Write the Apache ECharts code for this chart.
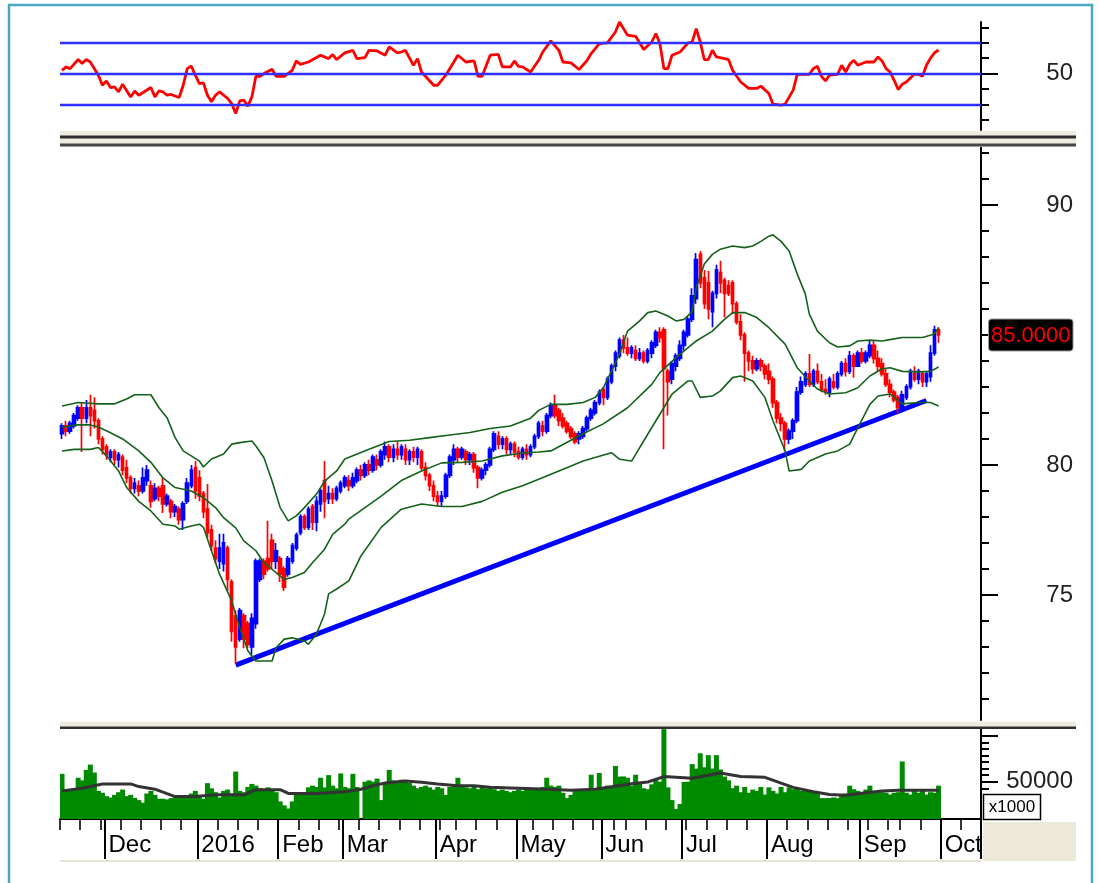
<!DOCTYPE html>
<html>
<head>
<meta charset="utf-8">
<script src="https://cdn.jsdelivr.net/npm/echarts@6.0.0/dist/echarts.min.js"></script>
<style>
html, body { margin: 0; padding: 0; background: #fff; }
#chart { width: 1099px; height: 883px; }
</style>
</head>
<body>
<div id="chart"></div>
<script>
// trading days Nov 16 2015 .. Sep 30 2016 (218 bars) + room up to the axis
var CAT_COUNT = 228;
var monthStarts = [11, 34, 54, 70, 93, 113, 134, 154, 175, 198, 218];
var monthNames = ['Dec', '2016', 'Feb', 'Mar', 'Apr', 'May', 'Jun', 'Jul', 'Aug', 'Sep', 'Oct'];
var weekStarts = [0, 5, 10, 15, 20, 25, 30, 34, 39, 44, 49, 54, 59, 64, 69, 74, 79, 84, 89, 94, 98, 103, 108,
    113, 117, 122, 127, 132, 137, 140, 145, 150, 155, 160, 165, 170, 175, 180, 185, 190, 195, 200, 205, 208, 213, 218, 223];

var opens = [81.2,81.5,81.3,81.5,81.8,82.2,81.8,82.2,82.1,81.7,
    81.0,80.7,80.3,80.5,80.2,80.3,79.9,79.5,79.1,79.2,
    79.0,79.4,79.2,78.7,79.1,79.2,78.5,78.6,78.2,78.3,
    77.9,78.6,79.2,79.9,79.5,78.9,78.3,77.5,76.8,76.3,
    76.2,76.8,75.5,74.2,73.3,74.2,73.9,73.0,73.9,75.6,
    76.3,76.4,77.1,76.3,76.4,76.0,75.8,76.3,76.8,77.4,
    78.0,77.6,78.4,77.8,78.5,79.4,78.7,78.9,78.7,79.0,
    79.2,79.4,79.2,79.4,79.8,79.6,80.0,79.8,80.2,80.0,
    80.4,80.7,80.3,80.6,80.4,80.6,80.2,80.5,80.3,80.5,
    79.9,79.6,79.2,78.8,78.6,78.8,79.6,80.2,80.6,80.3,
    80.5,80.2,80.4,79.9,79.5,79.8,80.0,80.6,81.1,80.8,
    81.0,80.6,80.8,80.5,80.3,80.6,80.4,80.7,81.1,81.5,
    81.3,81.9,82.3,82.1,81.8,81.6,81.4,81.2,81.0,81.1,
    81.4,81.8,82.0,82.4,82.9,82.6,83.2,83.8,84.2,84.8,
    84.5,84.3,84.4,84.1,84.3,84.0,84.3,84.6,85.1,85.2,
    83.6,83.3,83.8,84.1,84.6,85.0,85.6,86.4,88.1,87.2,
    87.0,85.9,86.6,87.4,87.1,86.9,87.0,86.2,85.5,85.0,
    84.3,84.0,83.7,84.0,83.8,83.6,83.3,82.4,81.8,81.6,
    81.0,81.3,81.7,82.8,83.1,83.5,83.1,83.6,83.2,82.9,
    82.8,83.2,83.0,83.5,83.9,83.6,84.2,83.8,84.3,84.0,
    84.2,84.6,84.1,83.9,83.5,83.1,82.8,82.6,82.2,82.6,
    83.0,83.5,83.3,83.5,83.2,83.4,84.3,85.2];
var closes = [81.5,81.3,81.6,81.9,82.2,81.8,82.2,81.9,81.7,81.0,
    80.6,80.4,80.5,80.2,80.4,79.8,79.5,79.1,79.3,79.0,
    79.5,79.8,78.6,79.1,78.8,78.5,78.8,78.2,78.4,77.9,
    78.5,79.3,79.8,79.0,78.8,78.2,77.4,76.9,76.4,76.8,
    77.0,75.6,73.6,73.0,74.4,73.3,73.1,74.1,76.3,76.3,
    75.8,76.0,76.3,76.7,75.8,75.3,76.4,76.9,77.3,78.0,
    77.6,78.3,77.8,78.6,79.0,78.6,78.9,78.7,79.1,79.3,
    79.5,79.2,79.5,79.8,79.6,80.0,79.8,80.3,80.0,80.5,
    80.7,80.3,80.6,80.4,80.7,80.2,80.5,80.3,80.6,79.9,
    79.6,79.2,78.8,78.6,78.8,79.6,80.3,80.6,80.3,80.6,
    80.2,80.4,79.9,79.5,79.8,80.0,80.6,81.2,80.8,81.0,
    80.6,80.8,80.5,80.3,80.6,80.4,80.7,81.1,81.6,81.3,
    81.9,82.3,81.9,81.7,81.5,81.3,81.1,80.9,81.2,81.4,
    81.8,82.1,82.4,82.8,82.6,83.3,83.8,84.3,84.8,84.5,
    84.3,84.5,84.1,84.3,84.0,84.4,84.7,85.1,84.9,83.7,
    83.2,83.9,84.2,84.6,85.1,85.6,86.5,87.9,87.0,86.2,
    86.0,86.6,87.5,87.0,86.6,86.6,86.2,85.5,85.0,84.3,
    84.0,83.7,84.0,83.8,83.5,83.3,82.4,81.8,81.6,81.0,
    81.3,81.7,82.8,83.2,83.5,83.1,83.6,83.2,82.9,82.8,
    83.3,83.0,83.5,83.9,83.6,84.2,83.8,84.3,84.0,84.3,
    84.6,84.1,83.8,83.5,83.1,82.8,82.5,82.2,82.7,83.0,
    83.6,83.3,83.6,83.2,83.5,84.3,85.2,85.0];
var lows = [81.0,81.1,81.2,81.4,81.7,80.5,81.6,81.1,81.4,80.8,
    80.4,80.2,80.1,80.0,79.9,79.6,79.3,78.9,78.9,78.8,
    78.9,79.2,78.35,78.6,78.6,78.15,78.4,77.95,78.0,77.7,
    77.5,78.5,79.1,78.7,78.6,77.95,77.2,76.7,76.2,76.0,
    75.9,75.15,73.2,72.35,73.2,72.95,72.95,72.7,73.7,75.5,
    75.6,75.9,76.0,76.0,75.5,75.15,75.7,76.2,76.7,77.3,
    77.5,77.5,77.5,77.45,78.2,77.95,78.5,78.5,78.6,78.9,
    79.1,79.0,79.1,79.3,79.4,79.5,79.6,79.7,79.8,79.9,
    80.2,80.1,80.1,80.2,80.2,80.0,80.0,80.1,80.0,79.8,
    79.4,79.0,78.6,78.4,78.4,78.7,79.5,80.0,80.1,80.2,
    80.0,80.0,79.7,79.1,79.4,79.6,79.9,80.5,80.6,80.6,
    80.4,80.4,80.3,80.2,80.2,80.2,80.3,80.6,81.0,81.1,
    81.2,81.8,81.8,81.5,81.4,81.2,81.0,80.8,80.8,81.0,
    81.3,81.7,81.9,82.3,82.3,82.5,83.1,83.6,84.1,84.3,
    84.2,84.1,84.0,84.0,83.9,83.9,84.1,84.5,84.7,80.6,
    81.9,83.1,83.6,84.0,84.4,84.9,85.5,86.2,86.8,86.0,
    85.6,85.3,86.4,86.6,85.67,86.5,85.8,85.4,84.8,83.2,
    83.6,83.5,83.6,83.6,83.3,83.1,82.2,81.6,81.3,80.55,
    80.8,81.0,81.6,82.7,83.0,83.0,83.0,83.1,82.8,82.7,
    82.6,82.9,82.9,83.4,83.4,83.5,83.35,83.8,83.9,83.9,
    84.1,83.9,83.6,83.4,83.0,82.6,82.4,82.0,82.1,82.5,
    82.9,83.2,83.1,83.0,83.0,83.2,84.2,84.7];
var highs = [81.6,81.7,81.7,82.0,82.3,82.4,82.5,82.7,82.6,81.8,
    81.1,80.8,80.6,80.6,80.5,80.4,80.2,79.6,79.5,79.4,
    79.9,80.0,79.4,79.3,79.2,79.5,78.9,78.7,78.5,78.4,
    78.6,79.5,80.0,80.15,79.8,79.0,79.27,77.7,77.1,77.35,
    77.35,76.9,75.6,74.4,74.5,74.3,74.0,74.3,76.4,76.4,
    76.4,77.85,77.35,77.0,76.5,76.1,76.5,77.0,77.4,78.1,
    78.1,78.4,78.5,78.8,79.1,80.15,79.2,79.1,79.2,79.4,
    79.6,79.6,79.7,79.9,80.0,80.1,80.2,80.4,80.4,80.6,
    80.9,80.8,80.8,80.9,80.8,80.8,80.6,80.7,80.7,80.6,
    80.1,79.7,79.4,79.0,79.0,79.7,80.4,80.8,80.7,80.7,
    80.6,80.5,80.5,80.0,79.9,80.1,80.7,81.3,81.3,81.1,
    81.1,80.9,80.9,80.7,80.7,80.8,80.8,81.2,81.7,81.7,
    82.0,82.4,82.7,82.2,82.0,81.7,81.5,81.3,81.3,81.5,
    81.9,82.2,82.5,82.9,83.0,83.4,83.9,84.4,84.9,85.0,
    84.9,84.6,84.6,84.5,84.4,84.5,84.8,85.2,85.3,85.3,
    83.7,84.0,84.3,84.8,85.2,85.7,86.8,88.15,88.23,87.5,
    87.46,86.7,87.7,87.85,87.2,87.1,87.1,86.3,85.8,85.1,
    84.4,84.2,84.1,84.1,83.9,83.9,83.4,82.5,82.0,81.7,
    81.4,81.8,83.0,83.4,83.6,84.27,83.7,83.9,83.5,83.3,
    83.4,83.5,83.6,84.0,84.1,84.38,84.3,84.4,84.5,84.4,
    84.77,84.8,84.4,84.1,83.7,83.3,82.9,82.7,82.85,83.1,
    83.7,83.8,83.7,83.6,83.6,84.6,85.35,85.3];
var volumes = [56000,43000,43000,44000,53000,51000,59000,63000,57000,43000,
    41600,39000,38000,40000,42000,44000,39000,40000,37700,36000,
    34000,41000,43000,40000,37000,37000,36500,37500,38000,38500,
    39000,38000,41000,43000,40000,37000,48900,45000,42000,38000,
    43000,44000,40000,57700,43000,42000,46000,48300,47000,45000,
    44000,45700,44300,42000,35000,32000,29600,35000,40000,41600,
    42000,45700,47000,46000,53000,45700,55000,47000,45000,56300,
    46000,45000,56000,46000,21500,50000,51000,50000,52400,36000,
    49000,59000,51000,50000,51500,50000,49000,47000,45000,46000,
    47000,45700,44000,46000,45000,40000,46000,47000,53000,46000,
    45700,45000,46000,44300,46000,45000,45700,44300,43000,44000,
    43000,42000,43000,44000,43000,44000,45000,44300,45000,46000,
    53000,47000,46000,47000,41600,37500,40000,42900,43000,42900,
    44000,55300,44000,56600,46000,47000,45700,62000,53900,54000,
    53000,47000,55300,49800,45000,44300,48000,51200,50000,90000,
    45700,36000,29200,33000,49800,50000,63400,60000,71600,61000,
    70200,60000,70200,59300,53900,51000,45000,47000,42000,46000,
    41600,44000,43000,46000,40200,45700,43000,41000,46000,42000,
    45700,44300,45000,43000,42900,43000,42000,41600,37500,37500,
    37500,38000,37500,40200,41000,47000,44300,43000,42000,44000,
    47000,42900,41600,42000,41600,40200,41600,42000,65400,41600,
    40200,42900,41600,42900,40200,42000,41600,47000];

// [bar index, value]
var volMa = [[0,43000],[5,45000],[10,48300],[17,48300],[19,46300],[23,44300],[26,40900],[28,38700],[33,38700],
    [38,40000],[45,40000],[48,43900],[54,43900],[56,41100],[63,41100],[70,42400],[74,44300],[77,47000],[80,49000],
    [85,50500],[89,49600],[93,48300],[98,47000],[102,47000],[106,45700],[111,45200],[115,44800],[120,44300],
    [126,43500],[132,44300],[141,48400],[145,49800],[149,53900],[156,52600],[163,56600],[168,53900],[174,53300],
    [181,45700],[186,42400],[190,40200],[194,39700],[199,41600],[203,42900],[207,43500],[217,43500]];
var bbUpper = [[0,82.27],[4,82.4],[9,82.35],[13,82.35],[16,82.54],[18,82.7],[22,82.7],[24,82.2],[26,81.82],[28,81.05],
    [30,80.54],[32,80.35],[34,80.15],[35,79.92],[37,80.23],[40,80.42],[42,80.8],[44,80.86],[47,80.92],[48,80.73],
    [50,80.28],[52,79.38],[54,78.36],[56,77.85],[58,78.04],[60,78.36],[63,78.88],[65,79.38],[68,79.77],[70,80.23],
    [76,80.6],[81,80.9],[86,80.95],[91,81.05],[96,81.15],[101,81.25],[106,81.4],[111,81.5],[116,81.8],[118,82.1],
    [121,82.33],[125,82.33],[129,82.4],[132,82.6],[134,82.97],[136,83.6],[138,84.27],[140,85.15],[143,85.54],
    [145,85.86],[147,85.92],[150,85.73],[152,85.54],[154,85.6],[156,85.9],[157,86.82],[159,87.73],[161,88.1],
    [163,88.3],[166,88.42],[169,88.36],[171,88.42],[173,88.6],[175,88.8],[176,88.85],[178,88.6],[180,88.23],
    [182,87.35],[184,86.58],[185,85.8],[187,85.15],[190,84.7],[192,84.54],[195,84.58],[197,84.77],[200,84.8],
    [203,84.77],[206,84.85],[208,84.9],[211,84.9],[213,84.9],[216,85.04],[217,85.28]];
var bbMid = [[0,81.43],[3,81.54],[7,81.54],[9,81.46],[12,81.24],[15,81.0],[19,80.54],[22,80.1],[25,79.5],[28,79.13],
    [32,79.0],[35,78.74],[38,78.36],[40,77.97],[43,77.58],[45,77.08],[48,76.7],[50,76.24],[53,75.86],[55,75.6],
    [57,75.67],[60,75.86],[62,76.24],[65,76.76],[67,77.33],[70,77.72],[71,77.92],[79,78.8],[84,79.4],[89,79.77],
    [94,80.08],[99,80.1],[104,80.15],[109,80.35],[114,80.46],[118,80.5],[121,80.54],[129,81.2],[134,81.58],
    [140,82.2],[146,83.1],[148,83.55],[152,84.13],[157,84.77],[161,85.15],[164,85.6],[166,85.86],[169,85.86],
    [172,85.67],[175,85.28],[179,84.65],[182,83.74],[185,83.23],[187,82.92],[190,82.73],[194,82.78],[197,82.97],
    [200,83.42],[203,83.7],[205,83.74],[208,83.6],[212,83.58],[215,83.6],[217,83.77]];
var bbLower = [[0,80.54],[3,80.6],[7,80.6],[9,80.67],[11,80.35],[14,79.77],[16,79.13],[19,78.6],[22,78.23],[25,77.72],
    [28,77.65],[29,77.53],[32,77.65],[34,77.72],[35,77.6],[37,76.7],[39,75.8],[42,74.77],[44,73.74],[46,72.85],
    [48,72.46],[50,72.46],[52,72.46],[53,72.97],[55,73.3],[57,73.35],[60,73.23],[61,73.1],[63,73.5],[65,74.27],
    [66,75.04],[68,75.23],[71,75.54],[74,76.5],[79,77.6],[84,78.3],[89,78.5],[94,78.4],[99,78.4],[104,78.6],
    [109,78.95],[114,79.2],[118,79.45],[123,79.77],[129,80.15],[136,80.47],[138,80.22],[141,80.15],[145,81.18],
    [148,81.95],[151,82.72],[155,83.23],[156,83.23],[158,82.6],[161,82.65],[163,82.85],[166,83.36],[168,83.42],
    [171,83.23],[174,82.6],[176,81.7],[179,80.54],[180,79.77],[183,79.83],[185,80.15],[189,80.42],[192,80.54],
    [195,80.8],[197,81.43],[200,82.33],[202,82.65],[205,82.73],[208,82.35],[212,82.4],[215,82.4],[217,82.27]];
var rsi = [[0,52.1],[1,54.3],[2,53.2],[4,59.1],[5,56.5],[6,59.1],[7,57.5],[9,48.9],[10,42.4],[11,45.2],[12,40.9],
    [13,41.3],[14,38.1],[15,43.1],[17,34.8],[18,38.7],[19,35.9],[22,40.9],[23,34.8],[24,38.7],[25,38.1],[26,35.9],
    [27,36.4],[29,34.4],[30,42.4],[31,53.2],[32,54.9],[33,48.9],[34,43.5],[35,43.9],[36,35.9],[37,31.6],[38,35.9],
    [39,38.1],[41,33.8],[42,30.5],[43,24.0],[44,32.2],[45,32.7],[46,28.8],[47,34.8],[48,48.2],[49,48.2],[50,50.0],
    [52,52.8],[53,48.2],[55,48.2],[57,52.1],[58,58.2],[59,56.0],[61,57.5],[63,60.4],[64,61.9],[66,59.7],[67,62.3],
    [68,59.1],[70,63.4],[72,65.1],[73,59.7],[75,60.4],[76,65.1],[78,64.7],[80,61.9],[81,67.3],[83,63.4],[84,64.0],
    [85,65.1],[87,55.4],[88,59.7],[89,51.0],[92,42.4],[93,42.4],[95,48.9],[97,57.5],[98,61.9],[100,57.5],[102,58.2],
    [103,48.2],[104,48.2],[106,61.9],[108,62.5],[109,54.3],[111,54.3],[112,58.2],[113,54.7],[114,54.3],[116,51.0],
    [118,58.6],[119,64.0],[121,71.2],[123,65.1],[124,57.5],[126,56.9],[128,52.6],[130,58.6],[131,63.0],[133,69.5],
    [135,69.9],[137,77.0],[138,83.5],[140,74.9],[142,74.2],[144,65.6],[146,70.5],[147,76.0],[148,69.5],[149,53.2],
    [150,53.2],[151,61.9],[153,64.0],[155,69.9],[156,70.5],[157,79.2],[158,70.5],[159,59.1],[160,59.1],[161,65.1],
    [162,60.8],[164,59.7],[165,59.1],[166,52.1],[168,44.5],[170,40.3],[172,40.3],[173,41.8],[175,37.0],[176,30.1],
    [178,29.4],[179,30.1],[181,39.2],[182,49.5],[185,49.5],[186,53.2],[187,54.7],[188,48.2],[189,45.2],[190,48.9],
    [192,49.5],[193,55.4],[194,51.0],[195,56.0],[196,58.6],[197,55.4],[199,57.5],[201,57.5],[202,60.8],[203,58.2],
    [204,53.2],[205,51.0],[206,45.6],[207,39.6],[208,43.1],[209,44.5],[211,49.5],[212,49.5],[213,48.2],[214,55.4],
    [215,60.0],[216,63.5],[217,65.3]];
var rsiLevels = [70, 50, 30];
var trendLine = [[43, 72.3], [214, 82.48]];

var rsiTicks = [20, 30, 40, 60, 70, 80];
var rsiLabels = [50];
var priceTicks = [71,72,73,74,76,77,78,79,81,82,83,84,85,86,87,88,89,91,92];
var priceLabels = [75, 80, 90];
var volTicks = [45000, 55000, 60000, 65000, 70000, 75000, 80000];
var volLongTicks = [50000, 85000];
var volLabels = [50000];

var FONT = 'Liberation Sans, Arial, sans-serif';
var categories = [];
for (var i = 0; i < CAT_COUNT; i++) {
    categories.push(String(i));
}
var candles = [];
for (var i = 0; i < closes.length; i++) {
    candles.push([opens[i], closes[i], lows[i], highs[i]]);
}
var lastClose = closes[closes.length - 1];

function isWeek(i) { return weekStarts.indexOf(i) >= 0; }
function isMonth(i) { return monthStarts.indexOf(i) >= 0; }

function bandSeries(name, data) {
    return {
        name: name, type: 'line', xAxisIndex: 1, yAxisIndex: 2, data: data,
        symbol: 'none', silent: true, z: 4,
        lineStyle: {color: '#14621a', width: 1.6}
    };
}

function valueAxis(grid, min, max, ticks, len, labels, showLine) {
    return {
        type: 'value', gridIndex: grid, position: 'right', min: min, max: max,
        axisLine: {show: showLine, onZero: false, lineStyle: {color: '#000', width: 2}},
        axisTick: {show: true, customValues: ticks, length: len, lineStyle: {color: '#000', width: 2}},
        axisLabel: labels ? {
            show: true, customValues: labels, fontSize: 24, fontFamily: FONT, color: '#222',
            align: 'right', margin: 92, formatter: function (v) { return String(v); }
        } : {show: false},
        splitLine: {show: false}
    };
}

var dom = document.getElementById('chart');
var myChart = echarts.init(dom);
var option = {
    animation: false,
    backgroundColor: '#fff',
    textStyle: {fontFamily: FONT},
    axisPointer: {triggerOn: 'none'},
    grid: [
        {left: 60, top: 22, width: 921, height: 108, containLabel: false},
        {left: 60, top: 147, width: 921, height: 573, containLabel: false},
        {left: 60, top: 729, width: 921, height: 90, containLabel: false}
    ],
    xAxis: [
        {type: 'category', gridIndex: 0, data: categories, show: false},
        {type: 'category', gridIndex: 1, data: categories, show: false},
        {
            type: 'category', gridIndex: 2, data: categories, position: 'bottom',
            axisLine: {show: true, onZero: false, lineStyle: {color: '#000', width: 2}},
            axisTick: {show: true, interval: function (i) { return isWeek(i); }, length: 11, lineStyle: {color: '#000', width: 1.6}},
            axisLabel: {show: false},
            splitLine: {show: false}
        },
        {
            type: 'category', gridIndex: 2, data: categories, position: 'bottom',
            axisLine: {show: false, onZero: false},
            axisTick: {show: true, interval: function (i) { return isMonth(i); }, length: 40, lineStyle: {color: '#000', width: 2}},
            axisLabel: {
                show: true, interval: function (i) { return isMonth(i); },
                formatter: function (v) { return monthNames[monthStarts.indexOf(+v)]; },
                align: 'left', padding: [0, 0, 0, 2], margin: 14,
                fontSize: 24, fontFamily: FONT, color: '#000'
            },
            splitLine: {show: false}
        }
    ],
    yAxis: [
        valueAxis(0, 13.3, 83.5, rsiTicks, 8, null, true),
        valueAxis(0, 13.3, 83.5, rsiLabels, 17, rsiLabels, false),
        valueAxis(1, 70.19, 92.23, priceTicks, 8, null, true),
        (function () {
            var ax = valueAxis(1, 70.19, 92.23, priceLabels, 17, priceLabels, false);
            // last price marker on the axis
            ax.axisPointer = {
                show: true, type: 'line', value: lastClose, status: 'show', snap: false,
                triggerTooltip: false,
                lineStyle: {opacity: 0, width: 0},
                label: {
                    show: true, margin: 8,
                    formatter: function (p) { return Number(p.value).toFixed(4); },
                    backgroundColor: '#000', color: '#ff0000',
                    borderColor: '#9a9a9a', borderWidth: 1, padding: [5, 2, 4, 2],
                    fontSize: 22, fontFamily: FONT
                }
            };
            return ax;
        })(),
        valueAxis(2, 21615, 90100, volTicks, 8, null, true),
        valueAxis(2, 21615, 90100, volLongTicks, 17, volLabels, false)
    ],
    series: [
        {
            name: 'RSI', type: 'line', xAxisIndex: 0, yAxisIndex: 0, data: rsi,
            symbol: 'none', silent: true, z: 4,
            lineStyle: {color: '#ff0000', width: 2.8},
            markLine: {
                silent: true, symbol: ['none', 'none'], label: {show: false},
                lineStyle: {color: '#2f2fff', width: 2.4, type: 'solid'},
                data: rsiLevels.map(function (v) { return {yAxis: v}; })
            }
        },
        {
            name: 'Trend', type: 'line', xAxisIndex: 1, yAxisIndex: 2, data: trendLine,
            symbol: 'none', silent: true, z: 2,
            lineStyle: {color: '#0000ff', width: 5}
        },
        {
            name: 'Price', type: 'candlestick', xAxisIndex: 1, yAxisIndex: 2, data: candles,
            barWidth: 3, z: 3,
            itemStyle: {
                color: '#0000ff', color0: '#ff0000',
                borderColor: '#0000ff', borderColor0: '#ff0000', borderWidth: 1.7
            }
        },
        bandSeries('Upper', bbUpper),
        bandSeries('Middle', bbMid),
        bandSeries('Lower', bbLower),
        {
            name: 'Volume', type: 'bar', xAxisIndex: 2, yAxisIndex: 4, data: volumes,
            barWidth: 5, silent: true,
            itemStyle: {color: '#008a00'}
        },
        {
            name: 'Vol MA', type: 'line', xAxisIndex: 2, yAxisIndex: 4, data: volMa,
            symbol: 'none', silent: true, z: 4,
            lineStyle: {color: '#333333', width: 3}
        }
    ],
    graphic: [
        {type: 'rect', z: 100, shape: {x: 9, y: 5, width: 1083, height: 900}, style: {fill: 'none', stroke: '#4aa6c2', lineWidth: 2.5}},
        {type: 'rect', z: 90, shape: {x: 60, y: 131, width: 1016, height: 16}, style: {fill: '#eeece0'}},
        {type: 'rect', z: 91, shape: {x: 60, y: 135.5, width: 1016, height: 3}, style: {fill: '#2e2e2e'}},
        {type: 'rect', z: 91, shape: {x: 60, y: 143.5, width: 1016, height: 3}, style: {fill: '#484848'}},
        {type: 'rect', z: 90, shape: {x: 60, y: 721.5, width: 1016, height: 5}, style: {fill: '#eeece0'}},
        {type: 'rect', z: 91, shape: {x: 60, y: 726.5, width: 1016, height: 2.5}, style: {fill: '#2e2e2e'}},
        {type: 'rect', z: 90, shape: {x: 983, y: 822, width: 93, height: 39}, style: {fill: '#ece9d8'}},
        {type: 'rect', z: 90, shape: {x: 60, y: 860, width: 921, height: 2}, style: {fill: '#e6e3d3'}},
        {type: 'rect', z: 95, shape: {x: 983.5, y: 794.5, width: 57, height: 25}, style: {fill: '#fff', stroke: '#000', lineWidth: 1.5}},
        {type: 'text', z: 96, x: 1012, y: 807, style: {text: 'x1000', fontSize: 17, fontFamily: FONT, fill: '#000', align: 'center', verticalAlign: 'middle'}}
    ]
};
if (option && typeof option === "object") {
    myChart.setOption(option, true);
}
</script>
</body>
</html>
